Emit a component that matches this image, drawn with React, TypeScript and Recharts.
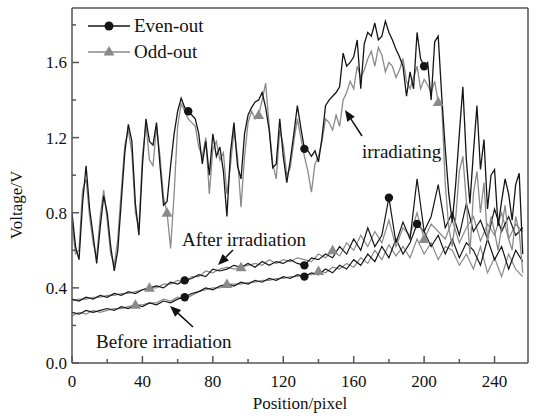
import React from "react";
import { LineChart, Line, XAxis, YAxis, ReferenceLine } from "recharts";

// x positions (pixel index along the sensor)
const irrX = Array.from({ length: 129 }, (_, i) => i * 2);
const flatX = Array.from({ length: 65 }, (_, i) => i * 4);

// irradiating, even-out
const irrEven = [
  0.8, 0.62, 0.55, 0.85, 1.05, 0.82, 0.68, 0.53, 0.72, 0.89, 0.8, 0.62, 0.49, 0.6, 0.86, 1.12,
  1.27, 1.18, 0.85, 0.68, 1.05, 1.3, 1.18, 1.16, 1.28, 1.05, 0.84, 0.86, 1.05, 1.22, 1.34, 1.41,
  1.36, 1.34, 1.32, 1.3, 1.22, 1.06, 1.18, 1.0, 1.22, 1.1, 1.15, 1.02, 0.78, 1.12, 1.28, 1.05,
  0.98, 1.22, 1.32, 1.36, 1.39, 1.4, 1.44, 1.36, 1.24, 1.04, 1.06, 1.3, 1.1, 0.96, 1.08, 1.22,
  1.37, 1.25, 1.14, 1.13, 1.1, 1.13, 1.07, 1.2, 1.37, 1.4, 1.42, 1.44, 1.47, 1.65, 1.58, 1.6,
  1.63, 1.72, 1.46, 1.7, 1.76, 1.74, 1.81, 1.72, 1.74, 1.82, 1.76, 1.72, 1.67, 1.63, 1.58, 1.42,
  1.55, 1.46, 1.76, 1.62, 1.58, 1.6, 1.4, 1.71, 1.74, 1.42, 1.14, 0.9, 0.75, 0.96, 1.22, 1.47,
  1.08, 0.85, 1.12, 1.37, 1.03, 1.19, 0.82, 1.0, 1.03, 0.73, 0.86, 0.98, 0.9, 0.76, 0.95, 1.01,
  0.58,
];

// irradiating, odd-out
const irrOdd = [
  0.75, 0.58, 0.6, 0.92, 0.98, 0.78, 0.64, 0.56, 0.78, 0.92, 0.76, 0.58, 0.52, 0.66, 0.92, 1.16,
  1.24, 1.12, 0.8, 0.72, 1.1, 1.27, 1.08, 1.05, 1.26, 1.1, 0.88, 0.8, 0.61, 0.9, 1.26, 1.38,
  1.34, 1.3, 1.28, 1.26, 1.15, 1.1, 1.2, 0.9, 1.14, 1.18, 1.08, 1.12, 0.9, 1.05, 1.24, 1.1,
  0.83, 1.1, 1.28, 1.34, 1.3, 1.32, 1.4, 1.49, 1.26, 1.06, 0.98, 1.24, 1.16, 1.0, 1.04, 1.18,
  1.3, 1.2, 1.1, 1.02, 0.91, 1.06, 1.1, 1.18, 1.3, 1.28, 1.24, 1.32, 1.26, 1.4, 1.44, 1.5,
  1.46, 1.58, 1.52, 1.56, 1.62, 1.66, 1.58, 1.68, 1.64, 1.55, 1.6, 1.58, 1.52, 1.56, 1.62, 1.5,
  1.46, 1.52, 1.58, 1.46, 1.51, 1.48, 1.44, 1.5, 1.39, 1.38, 0.95, 0.72, 0.62, 0.78, 1.02, 1.1,
  0.86, 0.58, 0.9, 1.02, 0.8, 0.96, 0.65, 0.78, 0.7, 0.6, 0.72, 0.84, 0.66, 0.6, 0.78, 0.7,
  0.48,
];

// after irradiation
const afterEven = [
  0.34, 0.33, 0.35, 0.34, 0.36, 0.35, 0.37, 0.36, 0.38, 0.37, 0.39, 0.4, 0.41, 0.4, 0.43, 0.42,
  0.44, 0.45, 0.47, 0.46, 0.5, 0.49, 0.5, 0.52, 0.51, 0.53, 0.51, 0.54, 0.52, 0.54, 0.53, 0.55,
  0.53, 0.52, 0.56, 0.55, 0.58, 0.56, 0.62, 0.58, 0.66, 0.6, 0.72, 0.62, 0.68, 0.88, 0.64, 0.75,
  0.66, 0.98, 0.7, 0.78, 0.95, 0.72, 0.8, 0.68, 0.85, 0.7, 0.76, 0.66, 0.82, 0.7, 0.78, 0.68,
  0.72,
];
const afterOdd = [
  0.33, 0.34, 0.34, 0.35, 0.35, 0.36, 0.36, 0.37, 0.37, 0.38, 0.39, 0.4, 0.4, 0.42, 0.42, 0.44,
  0.43, 0.46, 0.46, 0.49, 0.48, 0.5, 0.51, 0.5, 0.51, 0.52, 0.53, 0.52, 0.55, 0.53, 0.55, 0.54,
  0.56, 0.55, 0.54, 0.58, 0.56, 0.6, 0.57, 0.64, 0.6, 0.68, 0.62, 0.7, 0.64, 0.76, 0.62, 0.72,
  0.68, 0.8, 0.66, 0.74, 0.7, 0.66, 0.76, 0.64, 0.72, 0.78, 0.65, 0.74, 0.68, 0.8, 0.66, 0.74,
  0.7,
];

// before irradiation
const beforeEven = [
  0.27, 0.26, 0.28, 0.27, 0.28, 0.29, 0.28, 0.3, 0.29, 0.31, 0.3, 0.32, 0.31, 0.33, 0.32, 0.34,
  0.35, 0.37, 0.38, 0.4, 0.39, 0.41, 0.42, 0.41, 0.43, 0.42, 0.44, 0.43, 0.45, 0.44, 0.46, 0.45,
  0.47, 0.46, 0.48, 0.47, 0.5, 0.48, 0.52, 0.5, 0.55, 0.52, 0.58, 0.54, 0.62, 0.56, 0.66, 0.58,
  0.64, 0.74, 0.7, 0.62, 0.68, 0.58, 0.66, 0.56, 0.64, 0.6, 0.52, 0.66, 0.55, 0.62, 0.5, 0.6,
  0.54,
];
const beforeOdd = [
  0.25, 0.27, 0.26, 0.28, 0.27, 0.28, 0.29, 0.29, 0.3, 0.31, 0.31, 0.32, 0.32, 0.34, 0.33, 0.35,
  0.34, 0.36, 0.38, 0.39, 0.4, 0.4, 0.42, 0.42, 0.42, 0.43, 0.43, 0.44, 0.44, 0.45, 0.45, 0.46,
  0.46, 0.47, 0.47, 0.49, 0.48, 0.51, 0.5, 0.53, 0.51, 0.56, 0.53, 0.6, 0.55, 0.63, 0.57, 0.62,
  0.56, 0.66, 0.58, 0.64, 0.55, 0.62, 0.6, 0.52, 0.58, 0.5, 0.62, 0.48, 0.56, 0.46, 0.58, 0.5,
  0.46,
];

const xTicks = [0, 20, 40, 60, 80, 100, 120, 140, 160, 180, 200, 220, 240];
const yTicks = [0, 0.2, 0.4, 0.6, 0.8, 1.0, 1.2, 1.4, 1.6, 1.8];

const toRows = (xs: number[], ys: number[]) => xs.map((x, i) => ({ x, v: ys[i] }));

const BLACK = "#151515";
const GRAY = "#8a8a8a";
const AXIS = "#555";
const FONT = "'Liberation Serif', 'Times New Roman', serif";
const PLOT_LEFT = 72;
const PLOT_BOTTOM = 363;

const circleDot = (idx: number[]) => (props: any) => {
  const { cx, cy, index } = props;
  if (!idx.includes(index)) return <g key={index} />;
  return <circle key={index} cx={cx} cy={cy} r={4.2} fill={BLACK} />;
};

const triDot = (idx: number[]) => (props: any) => {
  const { cx, cy, index } = props;
  if (!idx.includes(index)) return <g key={index} />;
  return (
    <polygon
      key={index}
      points={`${cx},${cy - 5.5} ${cx - 5.5},${cy + 4} ${cx + 5.5},${cy + 4}`}
      fill={GRAY}
    />
  );
};

const XTick = (props: any) => {
  const { payload } = props;
  const x = payload.coordinate;
  const major = payload.value % 40 === 0;
  return (
    <g>
      <line x1={x} x2={x} y1={PLOT_BOTTOM} y2={PLOT_BOTTOM - (major ? 7 : 4)} stroke={AXIS} strokeWidth={1.5} />
      {major && (
        <text x={x} y={PLOT_BOTTOM + 24} textAnchor="middle" fontSize={17} fontFamily={FONT} fill="#111">
          {payload.value}
        </text>
      )}
    </g>
  );
};

const YTick = (props: any) => {
  const { payload } = props;
  const y = payload.coordinate;
  const k = Math.round(payload.value * 10);
  const major = k % 4 === 0;
  return (
    <g>
      <line x1={PLOT_LEFT} x2={PLOT_LEFT + (major ? 7 : 4)} y1={y} y2={y} stroke={AXIS} strokeWidth={1.5} />
      {major && (
        <text x={PLOT_LEFT - 5} y={y + 6} textAnchor="end" fontSize={17} fontFamily={FONT} fill="#111">
          {payload.value.toFixed(1)}
        </text>
      )}
    </g>
  );
};

const Arrow = ({ x1, y1, x2, y2 }: { x1: number; y1: number; x2: number; y2: number }) => {
  const a = Math.atan2(y2 - y1, x2 - x1);
  const L = 11;
  const W = 4.5;
  const bx = x2 - L * Math.cos(a);
  const by = y2 - L * Math.sin(a);
  const px = -Math.sin(a) * W;
  const py = Math.cos(a) * W;
  return (
    <g>
      <line x1={x1} y1={y1} x2={bx} y2={by} stroke="#111" strokeWidth={1.5} />
      <polygon points={`${x2},${y2} ${bx + px},${by + py} ${bx - px},${by - py}`} fill="#111" />
    </g>
  );
};

const legend = () => (
  <svg width={200} height={60} style={{ overflow: "visible" }}>
    <line x1={0} x2={42} y1={10} y2={10} stroke={BLACK} strokeWidth={1.5} />
    <circle cx={21} cy={10} r={4.5} fill={BLACK} />
    <text x={46} y={16} fontSize={19} fontFamily={FONT} fill="#111">Even-out</text>
    <line x1={0} x2={42} y1={36} y2={36} stroke={GRAY} strokeWidth={1.5} />
    <polygon points="21,30 15.5,39.5 26.5,39.5" fill={GRAY} />
    <text x={46} y={42} fontSize={19} fontFamily={FONT} fill="#111">Odd-out</text>
  </svg>
);

export default function App() {
  return (
    <div style={{ position: "fixed", left: 0, top: 0, width: 545, height: 419, background: "#fff" }}>
      <LineChart width={545} height={419} margin={{ top: 8, right: 17, bottom: 0, left: 0 }}>
        <XAxis
          type="number"
          dataKey="x"
          domain={[0, 259]}
          ticks={xTicks}
          interval={0}
          height={56}
          allowDataOverflow
          stroke={AXIS}
          strokeWidth={1.5}
          tickLine={false}
          tick={<XTick />}
        />
        <YAxis
          type="number"
          domain={[0, 1.89]}
          ticks={yTicks}
          interval={0}
          width={72}
          allowDataOverflow
          stroke={AXIS}
          strokeWidth={1.5}
          tickLine={false}
          tick={<YTick />}
        />
        <ReferenceLine y={1.89} stroke={AXIS} strokeWidth={1.5} />
        <ReferenceLine x={259} stroke={AXIS} strokeWidth={1.5} />
        <Line data={toRows(flatX, beforeOdd)} dataKey="v" stroke={GRAY} strokeWidth={1.2} dot={triDot([9, 22, 35])} isAnimationActive={false} />
        <Line data={toRows(flatX, beforeEven)} dataKey="v" stroke={BLACK} strokeWidth={1.2} dot={circleDot([16, 33, 49])} isAnimationActive={false} />
        <Line data={toRows(flatX, afterOdd)} dataKey="v" stroke={GRAY} strokeWidth={1.2} dot={triDot([11, 24, 37, 50])} isAnimationActive={false} />
        <Line data={toRows(flatX, afterEven)} dataKey="v" stroke={BLACK} strokeWidth={1.2} dot={circleDot([16, 33, 45])} isAnimationActive={false} />
        <Line data={toRows(irrX, irrOdd)} dataKey="v" stroke={GRAY} strokeWidth={1.3} dot={triDot([27, 53, 104])} isAnimationActive={false} />
        <Line data={toRows(irrX, irrEven)} dataKey="v" stroke={BLACK} strokeWidth={1.3} dot={circleDot([33, 66, 100])} isAnimationActive={false} />
      </LineChart>
      <div style={{ position: "absolute", left: 88, top: 16 }}>{legend()}</div>
      <svg width={545} height={419} style={{ position: "absolute", left: 0, top: 0, pointerEvents: "none" }}>
        <text x={300} y={409} textAnchor="middle" fontSize={17} fontFamily={FONT} fill="#111">Position/pixel</text>
        <text x={22} y={205} transform="rotate(-90 22 205)" textAnchor="middle" fontSize={17} fontFamily={FONT} fill="#111">Voltage/V</text>
        <text x={362} y={158} fontSize={19} fontFamily={FONT} fill="#111">irradiating</text>
        <Arrow x1={362} y1={136} x2={345} y2={110} />
        <text x={182} y={246} fontSize={19} fontFamily={FONT} fill="#111">After irradiation</text>
        <Arrow x1={233} y1={250} x2={218} y2={265} />
        <text x={96} y={348} fontSize={19} fontFamily={FONT} fill="#111">Before irradiation</text>
        <Arrow x1={193} y1={327} x2={170} y2={306} />
      </svg>
    </div>
  );
}
